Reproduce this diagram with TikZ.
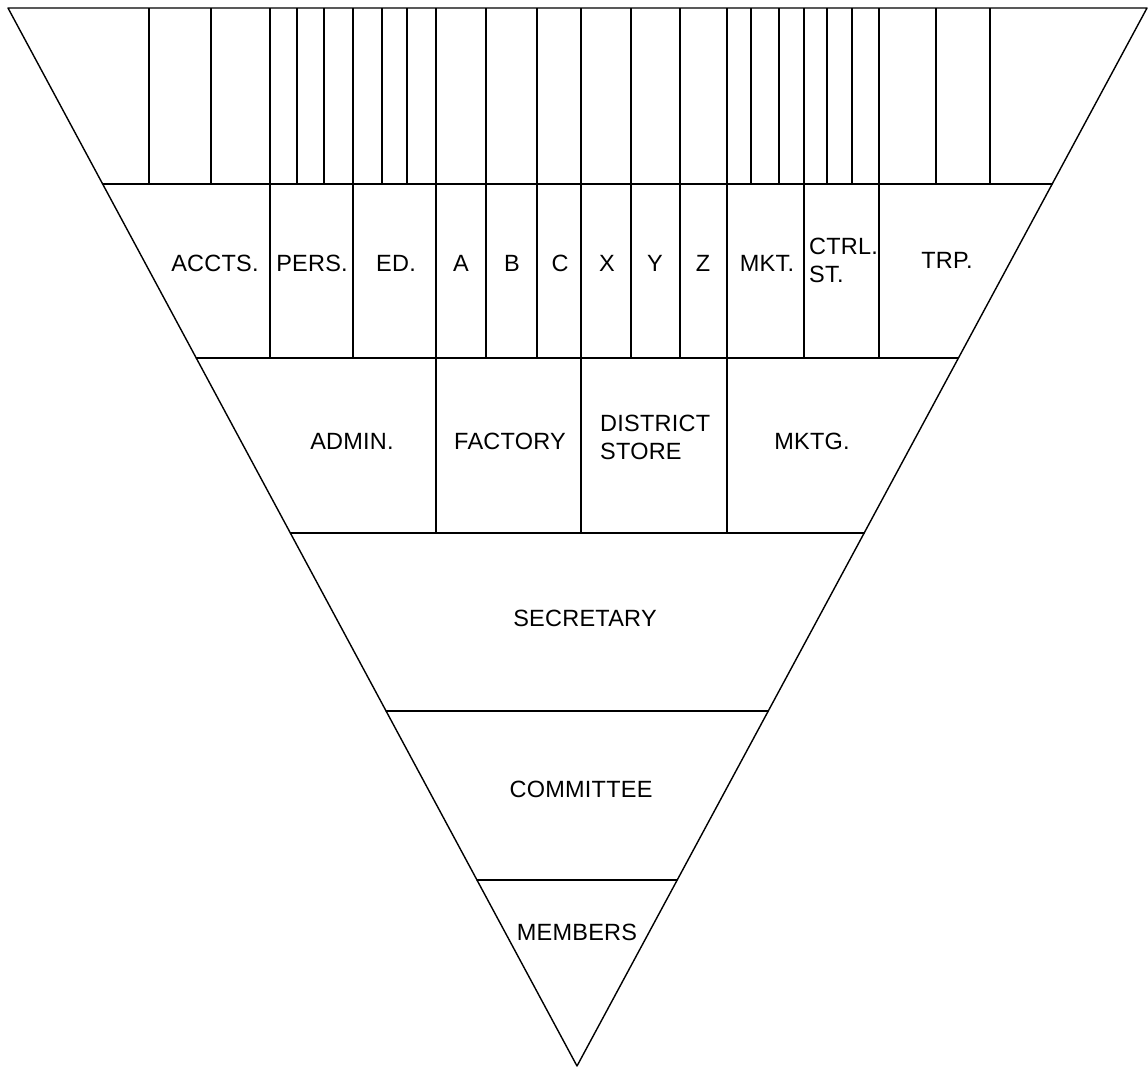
\documentclass[tikz,border=0pt]{standalone}
\usepackage{fontspec}
\setmainfont{Liberation Sans}[LetterSpace=1]
\usetikzlibrary{calc}
\begin{document}
\begin{tikzpicture}[x=1pt,y=-1pt,
  edge/.style={line width=1.4pt, line join=round, line cap=round},
  divider/.style={line width=1.2pt},
  lbl/.style={font=\fontsize{23.5}{28}\selectfont, inner sep=0pt, anchor=center},
  lbltwo/.style={font=\fontsize{23.5}{28}\selectfont, inner sep=0pt, anchor=west, align=left}]
\useasboundingbox (0,0) rectangle (1148,1068);
% outline of the inverted triangle
\coordinate (TL) at (8,8);
\coordinate (TR) at (1147,8);
\coordinate (AP) at (577,1066);
\draw[edge] (TL) -- (TR) -- (AP) -- cycle;
% horizontal tiers
\foreach \n/\yy in {1/184, 2/358, 3/533, 4/711, 5/880} {
  \coordinate (L\n) at ($(TL)!{(\yy-8)/1058}!(AP)$);
  \coordinate (R\n) at ($(TR)!{(\yy-8)/1058}!(AP)$);
  \draw[edge] (L\n) -- (R\n);
}
% sub-divisions in the top band only
\foreach \xx in {149, 211, 297, 324, 382, 407, 751, 779, 827, 852, 936, 990}
  \draw[divider] (\xx,8) -- (\xx,184);
% department divisions (top band + second band)
\foreach \xx in {270, 353, 486, 537, 631, 680, 804, 879}
  \draw[divider] (\xx,8) -- (\xx,358);
% functional divisions (through three bands)
\foreach \xx in {436, 581, 727}
  \draw[divider] (\xx,8) -- (\xx,533);
% labels, second band
\node[lbl] (accts) at (215,263) {ACCTS.};
\node[lbl] (pers) at (312,263) {PERS.};
\node[lbl] (ed) at (396,263) {ED.};
\node[lbl] (a) at (461,263) {A};
\node[lbl] (b) at (512,263) {B};
\node[lbl] (c) at (560,263) {C};
\node[lbl] (x) at (607,263) {X};
\node[lbl] (y) at (655,263) {Y};
\node[lbl] (z) at (703,263) {Z};
\node[lbl] (mkt) at (767,263) {MKT.};
\node[lbltwo] (ctrl) at (809,260) {CTRL.\\ST.};
\node[lbl] (trp) at (947,260) {TRP.};
% labels, third band
\node[lbl] (admin) at (352,441) {ADMIN.};
\node[lbl] (factory) at (510,441) {FACTORY};
\node[lbltwo] (district) at (600,437) {DISTRICT\\STORE};
\node[lbl] (mktg) at (812,441) {MKTG.};
% lower tiers
\node[lbl] (secretary) at (585,618) {SECRETARY};
\node[lbl] (committee) at (581,789) {COMMITTEE};
\node[lbl] (members) at (577,932) {MEMBERS};
\end{tikzpicture}
\end{document}
